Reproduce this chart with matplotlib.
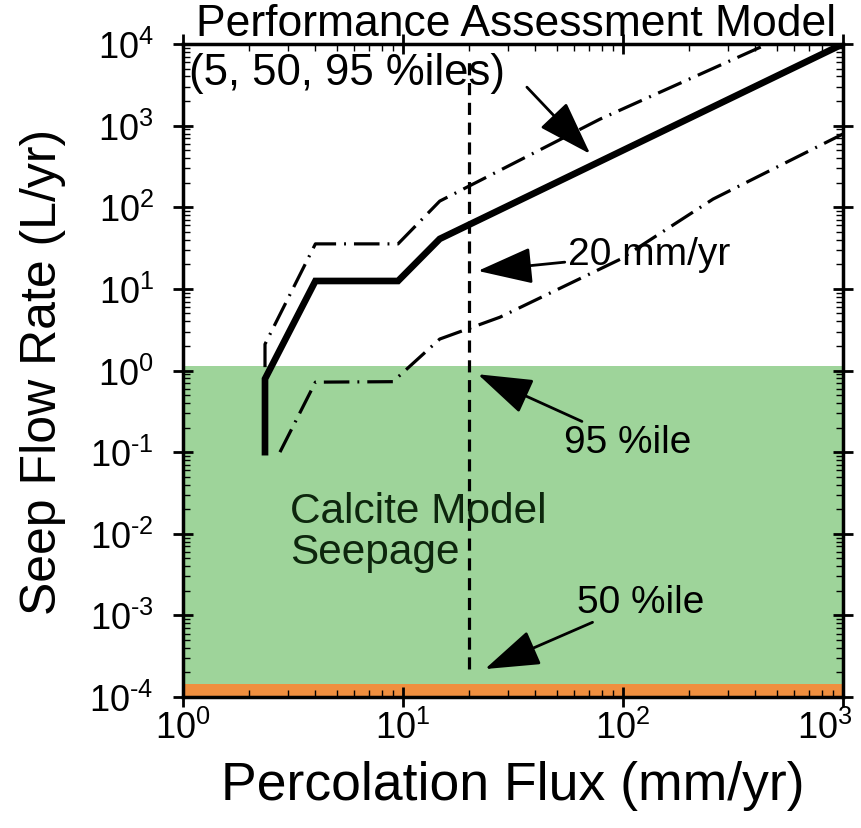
import numpy as np
import matplotlib
matplotlib.use('Agg')
import matplotlib.pyplot as plt
from matplotlib.ticker import FuncFormatter, LogLocator
from matplotlib.transforms import ScaledTranslation

plt.rcParams['font.family'] = ['Liberation Sans', 'DejaVu Sans']
plt.rcParams['mathtext.fontset'] = 'custom'
plt.rcParams['mathtext.rm'] = 'Liberation Sans'
plt.rcParams['mathtext.it'] = 'Liberation Sans:italic'

# percolation flux (mm/yr) vs seep flow rate (L/yr)
flux_50 = [2.36, 2.36, 4.0, 9.5, 14.7, 1000]
seep_50 = [0.1, 0.79, 12.5, 12.5, 41, 10000]

flux_95 = [2.36, 2.36, 4.0, 9.5, 14.7, 78.6, 433, 1000]
seep_95 = [1.1, 2.1, 35.6, 35.6, 119, 1200, 9450, 27500]

flux_5 = [2.76, 4.0, 9.0, 14.7, 27.6, 97, 257, 1000]
seep_5 = [0.1, 0.72, 0.73, 2.43, 4.5, 23, 126, 790]

calcite_95 = 1.13     # top of green band
calcite_50 = 1.43e-4  # top of orange band
flux_ref = 20         # 20 mm/yr marker


def pow10(v, pos):
    e = int(round(np.log10(v)))
    if e < 0:
        return r'$10^{\text{-}%d}$' % (-e)
    return r'$10^{%d}$' % e


fig = plt.figure(figsize=(8.61, 8.29), dpi=100)
ax = fig.add_axes([0.2125, 0.158, 0.7665, 0.7877])
ax.set_xscale('log')
ax.set_yscale('log')
ax.set_xlim(1, 1000)
ax.set_ylim(1e-4, 1e4)

ax.axhspan(1e-4, calcite_95, color='#9ed49a', lw=0, zorder=1)
ax.axhspan(1e-4, calcite_50, color='#ef8f3f', lw=0, zorder=1)

dashdot = (0, (8, 2.5, 0.6, 2.5))
ax.plot(flux_95, seep_95, color='k', lw=2.3, ls=dashdot, zorder=3)
ax.plot(flux_5, seep_5, color='k', lw=2.3, ls=dashdot, zorder=3)
ax.plot(flux_50, seep_50, color='k', lw=4.8, zorder=4, solid_joinstyle='miter')
ax.plot([flux_ref, flux_ref], [2.2e-4, 7000], color='k', lw=2.3, ls=(0, (3.8, 2.4)), zorder=3)

arrow = dict(arrowstyle='-|>,head_length=0.9,head_width=0.3', mutation_scale=38,
             lw=2, color='k', shrinkA=0, shrinkB=0)
ax.text(1.06, 4500, '(5, 50, 95 %iles)', fontsize=31.5, va='center', ha='left', zorder=5)
ax.annotate('', xy=(71, 450), xytext=(36.6, 2960), arrowprops=arrow, zorder=5)
ax.annotate('20 mm/yr', xy=(21.9, 16.6), xytext=(56, 27), fontsize=28,
            va='center', ha='left', arrowprops=arrow, zorder=5)
ax.annotate('95 %ile', xy=(21.9, 0.9), xytext=(54, 0.22), fontsize=28,
            va='top', ha='left', arrowprops=arrow, zorder=5)
ax.annotate('50 %ile', xy=(23.6, 2.2e-4), xytext=(61.6, 8.9e-4), fontsize=28,
            va='bottom', ha='left', arrowprops=arrow, zorder=5)
ax.text(3.06, 0.0107, 'Calcite Model\nSeepage', fontsize=30.5, va='center', ha='left',
        linespacing=1.05, color='#0d260d', zorder=5)

fig.text(0.599, 0.970, 'Performance Assessment Model', fontsize=32, ha='center', va='center')
ax.set_xlabel('Percolation Flux (mm/yr)', fontsize=38.5, va='center')
ax.set_ylabel('Seep Flow Rate (L/yr)', fontsize=36, va='center')
ax.xaxis.set_label_coords(0.5, -0.135)
ax.yaxis.set_label_coords(-0.212, 0.5)

ax.xaxis.set_major_formatter(FuncFormatter(pow10))
ax.yaxis.set_major_formatter(FuncFormatter(pow10))
ax.yaxis.set_major_locator(LogLocator(base=10, numticks=20))
ax.yaxis.set_minor_locator(LogLocator(base=10, subs=np.arange(2, 10), numticks=20))
ax.tick_params(which='major', direction='inout', length=14, width=2, labelsize=26,
               top=True, right=True)
ax.tick_params(axis='x', which='major', pad=2)
ax.tick_params(axis='y', which='major', pad=14)
ax.tick_params(which='minor', direction='in', length=5, width=1, top=True, right=True)
for s in ax.spines.values():
    s.set_linewidth(2.5)
    s.set_zorder(6)

# keep the 10^3 label inside the figure, as in the original
fig.canvas.draw()
for t in ax.xaxis.get_major_ticks():
    if np.isclose(t.get_loc(), 1000):
        t.label1.set_horizontalalignment('right')
        t.label1.set_transform(t.label1.get_transform()
                               + ScaledTranslation(0.1, 0, fig.dpi_scale_trans))

fig.savefig('out.png', dpi=100)
